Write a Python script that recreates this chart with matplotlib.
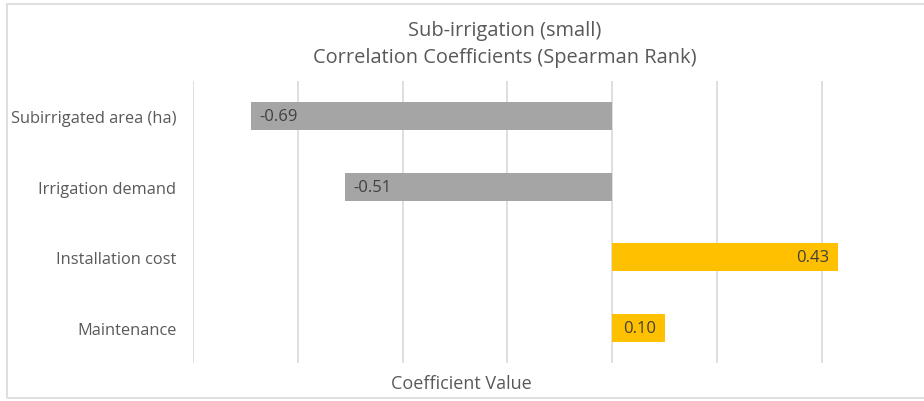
import matplotlib
matplotlib.use("Agg")
import matplotlib.pyplot as plt
from matplotlib.patches import Rectangle

categories = ["Subirrigated area (ha)", "Irrigation demand", "Installation cost", "Maintenance"]
values = [-0.69, -0.51, 0.43, 0.10]
labels = ["-0.69", "-0.51", "0.43", "0.10"]

NEG = "#A5A5A5"
POS = "#FFC000"
TXT = "#595959"

plt.rcParams.update({"font.family": ["Open Sans", "DejaVu Sans"]})

W, H = 924, 402
fig = plt.figure(figsize=(W / 100, H / 100), dpi=100)
fig.patch.set_facecolor("white")

# axes: x=-0.8 at 193 px, step 0.2 = 104.8 px; y rows 82..364 px
x0, x1 = 193, 193 + 7 * 104.8
y0, y1 = 82, 364
ax = fig.add_axes([x0 / W, 1 - y1 / H, (x1 - x0) / W, (y1 - y0) / H])
ax.set_xlim(-0.8, 0.6)
ax.set_ylim(len(categories) - 0.5, -0.5)

ys = list(range(len(categories)))
colors = [NEG if v < 0 else POS for v in values]
ax.barh(ys, values, height=0.4, color=colors, zorder=2)

for y, v, lab in zip(ys, values, labels):
    if v < 0:
        ax.text(v + 0.016, y, lab, ha="left", va="center", fontsize=12, color="#404040", zorder=3)
    else:
        ax.text(v - 0.016, y, lab, ha="right", va="center", fontsize=12, color="#404040", zorder=3)

ax.set_xticks([-0.8, -0.6, -0.4, -0.2, 0.0, 0.2, 0.4])
ax.xaxis.grid(True, color="#D9D9D9", linewidth=1.2, zorder=0)
ax.set_axisbelow(True)
ax.tick_params(axis="x", length=0, labelbottom=False)
ax.tick_params(axis="y", length=0, pad=12, labelsize=11.8, labelcolor=TXT)
ax.set_yticks(ys)
ax.set_yticklabels(categories)
for s in ax.spines.values():
    s.set_visible(False)

fig.text(505 / W, 1 - 31 / H, "Sub-irrigation (small)", ha="center", va="center",
         fontsize=14.4, color=TXT)
fig.text(505 / W, 1 - 58 / H, "Correlation Coefficients (Spearman Rank)", ha="center",
         va="center", fontsize=14.4, color=TXT)
fig.text(461 / W, 1 - 384 / H, "Coefficient Value", ha="center", va="center",
         fontsize=13, color=TXT)

# chart area border
fig.patches.append(Rectangle((7 / W, 1 - 399 / H), 1.0, (399 - 5) / H,
                             transform=fig.transFigure, fill=False,
                             edgecolor="#D9D9D9", linewidth=1.2))

fig.savefig("out.png", dpi=100)
